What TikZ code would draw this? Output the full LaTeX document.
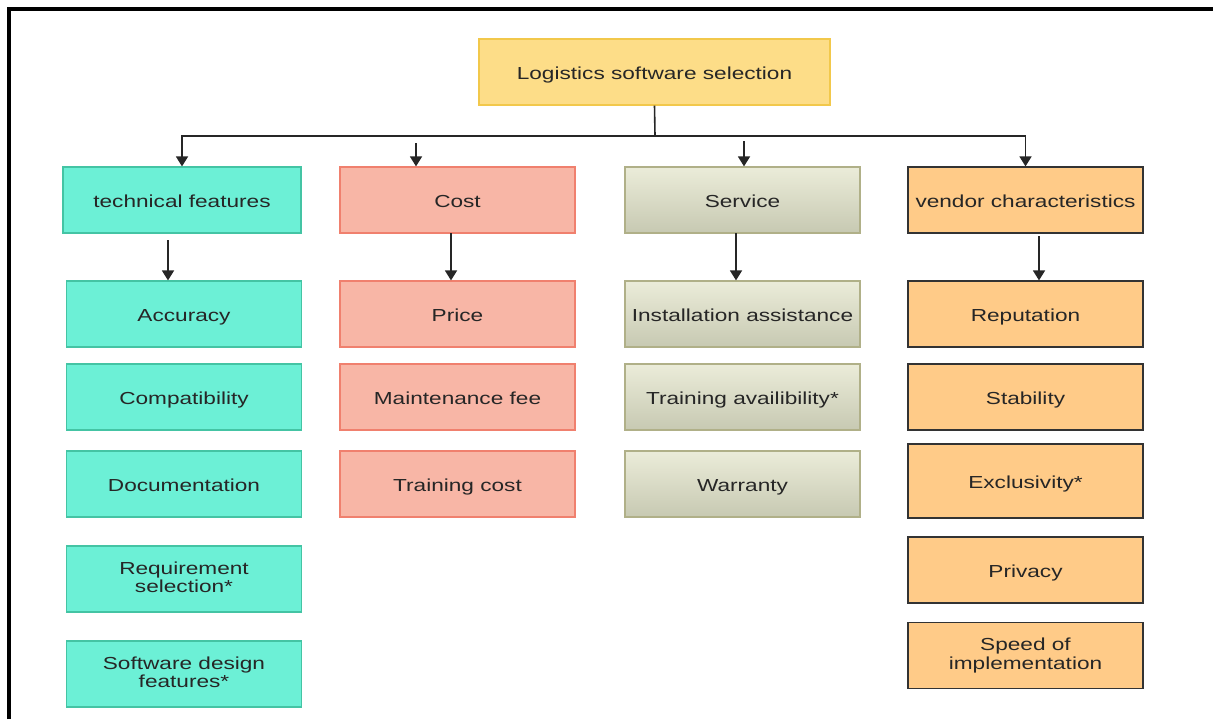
\documentclass[tikz,border=0pt]{standalone}
\usepackage{fontspec}
\setmainfont{Liberation Sans}[FakeStretch=1.3]
\usepackage{tikz}
\usetikzlibrary{positioning}
\usetikzlibrary{arrows.meta,calc}
\definecolor{techfill}{HTML}{6CF0D6}
\definecolor{techdraw}{HTML}{44C4A4}
\definecolor{costfill}{HTML}{F8B6A6}
\definecolor{costdraw}{HTML}{F0806E}
\definecolor{servtop}{HTML}{EBECD9}
\definecolor{servbot}{HTML}{C7C9B2}
\definecolor{servdraw}{HTML}{B0B088}
\definecolor{vendfill}{HTML}{FFCB88}
\definecolor{rootfill}{HTML}{FDDD88}
\definecolor{rootdraw}{HTML}{F2C84B}
\newcommand{\boxstrut}{\rule[-2pt]{0pt}{11pt}}
\tikzstyle{box}=[rectangle,minimum width=117.5pt,minimum height=33pt,inner sep=2pt,align=center,text=black!85,font=\fontsize{8.7}{9.2}\selectfont,execute at begin node=\boxstrut,line width=0.6pt]
\tikzstyle{rootbox}=[box,fill=rootfill,draw=rootdraw,minimum width=175.5pt]
\tikzstyle{techbox}=[box,fill=techfill,draw=techdraw]
\tikzstyle{costbox}=[box,fill=costfill,draw=costdraw]
\tikzstyle{servbox}=[box,top color=servtop,bottom color=servbot,draw=servdraw]
\tikzstyle{vendbox}=[box,fill=vendfill,draw=black!80]
\tikzstyle{arr}=[-{Triangle[width=6pt,length=5pt]},line width=0.8pt,black!85]

\begin{document}
\begin{tikzpicture}[x=0.5pt,y=-0.5pt]

  \useasboundingbox (0,0) rectangle (1213,719);
  \draw[line width=2pt] (9,719) -- (9,9) -- (1213,9);

  \node[rootbox] (root) at (654.5,72) {Logistics software selection};

  % main groups
  \node[techbox,minimum width=119pt] (tech) at (182,200) {technical features};
  \node[costbox] (cost) at (457.5,200) {Cost};
  \node[servbox] (serv) at (742.5,200) {Service};
  \node[vendbox] (vend) at (1025.5,200) {vendor characteristics};

  % criteria
  \foreach \pos/\name/\text in {{(184,314)/acc/Accuracy}, {(184,397)/comp/Compatibility}, {(184,484)/doc/Documentation}, {(184,579)/req/Requirement\\selection*}, {(184,674)/sdf/Software design\\features*}}
      \node[techbox] (\name) at \pos {\text};

  \foreach \pos/\name/\text in {{(457.5,314)/price/Price}, {(457.5,397)/fee/Maintenance fee}, {(457.5,484)/tcost/Training cost}}
      \node[costbox] (\name) at \pos {\text};

  \foreach \pos/\name/\text in {{(742.5,314)/inst/Installation assistance}, {(742.5,397)/train/Training availibility*}, {(742.5,484)/warr/Warranty}}
      \node[servbox] (\name) at \pos {\text};

  \foreach \pos/\name/\text in {{(1025.5,314)/rep/Reputation}, {(1025.5,397)/stab/Stability}, {(1025.5,570)/priv/Privacy}, {(1025.5,655.5)/speed/Speed of\\implementation}}
      \node[vendbox] (\name) at \pos {\text};
  \node[vendbox,minimum height=37pt] (excl) at (1025.5,481) {Exclusivity*};

  % connectors
  \coordinate (bus) at (655,136);
  \coordinate (costtop) at (416,143);
  \coordinate (servtop) at (744,141);
  \draw[line width=0.8pt,black!85] (root.south) -- (bus);
  \draw[arr] (bus) -| (tech.north);
  \draw[arr] (bus) -| (vend.north);
  \draw[arr] (costtop) -- (costtop |- cost.north);
  \draw[arr] (servtop) -- (servtop |- serv.north);

  \coordinate (t1) at (168,240);
  \coordinate (c1) at (451,233);
  \coordinate (s1) at (736,233);
  \coordinate (v1) at (1039,236);
  \draw[arr] (t1) -- (t1 |- acc.north);
  \draw[arr] (c1) -- (c1 |- price.north);
  \draw[arr] (s1) -- (s1 |- inst.north);
  \draw[arr] (v1) -- (v1 |- rep.north);

\end{tikzpicture}
\end{document}
